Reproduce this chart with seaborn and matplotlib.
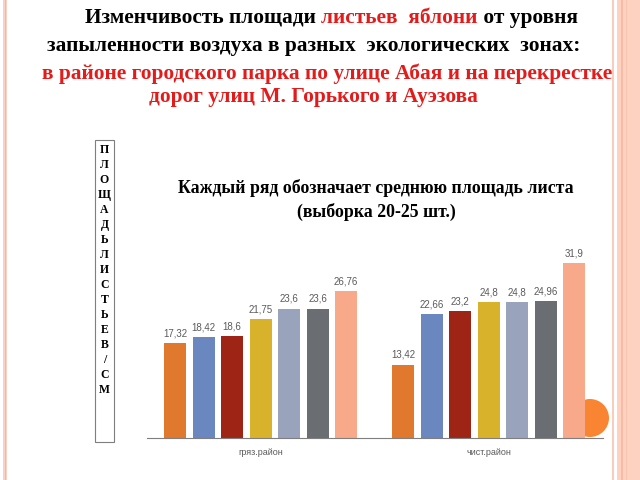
import matplotlib
matplotlib.use("Agg")
import matplotlib.pyplot as plt
import matplotlib.patches as mpatches
import seaborn as sns
import pandas as pd

# ---------------- data ----------------
categories = ["гряз.район", "чист.район"]
series = ["ряд 1", "ряд 2", "ряд 3", "ряд 4", "ряд 5", "ряд 6", "ряд 7"]
values_dirty = [17.32, 18.42, 18.6, 21.75, 23.6, 23.6, 26.76]
values_clean = [13.42, 22.66, 23.2, 24.8, 24.8, 24.96, 31.9]
colors = ["#E0782E", "#6A87BF", "#9E2515", "#D9B22C", "#9AA3BC", "#6A6D72", "#F8A98A"]

title_lines = [
    [("Изменчивость площади ", "black"), ("листьев  яблони", "#E31B1B"), (" от уровня", "black")],
    [("запыленности воздуха в разных  экологических  зонах:", "black")],
    [("в районе городского парка по улице Абая и на перекрестке", "#E31B1B")],
    [("дорог улиц М. Горького и Ауэзова", "#E31B1B")],
]
chart_title = "Каждый ряд обозначает среднюю площадь листа\n(выборка 20-25 шт.)"
ylabel_letters = ["П", "Л", "О", "Щ", "А", "Д", "Ь", "Л", "И", "С", "Т", "Ь", "Е", "В", "/", "С", "М"]

rows = []
for cat, vals in zip(categories, [values_dirty, values_clean]):
    for s, v in zip(series, vals):
        rows.append({"zone": cat, "series": s, "value": v})
df = pd.DataFrame(rows)

# ---------------- figure ----------------
sns.set_theme(style="white")
plt.rcParams["font.family"] = ["Liberation Sans", "DejaVu Sans"]

W, H = 640, 480
fig = plt.figure(figsize=(6.4, 4.8), dpi=100)
fig.patch.set_facecolor("white")

def fx(px):
    return px / W

def fy(py):
    return 1 - py / H

# decorative slide frame
fig.patches.append(mpatches.Rectangle((fx(3), 0), fx(4), 1, transform=fig.transFigure,
                                      facecolor="#F8D3C4", edgecolor="none", zorder=-5))
fig.patches.append(mpatches.Rectangle((fx(5), 0), fx(1), 1, transform=fig.transFigure,
                                      facecolor="#F2B6A2", edgecolor="none", zorder=-4))
fig.patches.append(mpatches.Rectangle((fx(612), 0), fx(2), 1, transform=fig.transFigure,
                                      facecolor="#F8CDBD", edgecolor="none", zorder=-5))
fig.patches.append(mpatches.Rectangle((fx(617), 0), fx(23), 1, transform=fig.transFigure,
                                      facecolor="#FDD2C1", edgecolor="none", zorder=-5))
fig.patches.append(mpatches.Rectangle((fx(621), 0), fx(2), 1, transform=fig.transFigure,
                                      facecolor="#F6BCA6", edgecolor="none", zorder=-4))
fig.patches.append(mpatches.Rectangle((fx(626), 0), fx(1), 1, transform=fig.transFigure,
                                      facecolor="#F8C4B0", edgecolor="none", zorder=-4))
# orange circle behind the last bar
fig.patches.append(mpatches.Ellipse((fx(590), fy(418)), fx(38), 38 / H, transform=fig.transFigure,
                                    facecolor="#F98533", edgecolor="none", zorder=-3))

# ---------------- axes ----------------
ax = fig.add_axes([fx(146.7), fy(438.3), fx(456), 36 * 5.49 / H])
ax.set_facecolor("none")
ax.set_zorder(1)
sns.barplot(data=df, x="zone", y="value", hue="series", order=categories, hue_order=series,
            palette=colors, width=0.875, gap=0.23, legend=False, ax=ax,
            saturation=1, edgecolor="none")
ax.set_ylim(0, 36)
ax.set_xlim(-0.5, 1.5)
for cont, s in zip(ax.containers, series):
    labs = [f"{v:g}".replace(".", ",") for v in df[df.series == s]["value"]]
    ax.bar_label(cont, labels=labs, padding=3.5, fontsize=7, color="#5A5A5A")
ax.set_xlabel("")
ax.set_ylabel("")
ax.set_yticks([])
ax.tick_params(axis="x", length=0, pad=7, labelsize=6.5, labelcolor="#5A5A5A")
for side in ["left", "right", "top"]:
    ax.spines[side].set_visible(False)
ax.spines["bottom"].set_color("#7F7F7F")
ax.spines["bottom"].set_linewidth(0.8)

# ---------------- texts ----------------
serif = ["Liberation Serif", "DejaVu Serif"]
fig.canvas.draw()
renderer = fig.canvas.get_renderer()

line_specs = [(85, 18, "left"), (47, 46, "left"), (42, 74, "left"), (313, 97, "center")]
for segs, (x0, yc, mode) in zip(title_lines, line_specs):
    texts = []
    for t, c in segs:
        txt = fig.text(0, fy(yc), t, color=c, fontsize=15.4, fontweight="bold",
                       family=serif, va="center", ha="left")
        texts.append(txt)
    widths = [tx.get_window_extent(renderer).width for tx in texts]
    total = sum(widths)
    start = x0 if mode == "left" else x0 - total / 2
    x = start
    for tx, w in zip(texts, widths):
        tx.set_x(fx(x))
        x += w

fig.text(fx(376), fy(200), chart_title, ha="center", va="center", fontsize=12.8,
         fontweight="bold", family=serif, color="black", linespacing=1.4)

# y-label box with stacked letters
fig.patches.append(mpatches.Rectangle((fx(95), fy(442)), fx(19), (442 - 140) / H,
                                      transform=fig.transFigure, facecolor="none",
                                      edgecolor="#7F7F7F", linewidth=0.8))
for i, letter in enumerate(ylabel_letters):
    fig.text(fx(104.5), fy(150 + 15 * i), letter, ha="center", va="center",
             fontsize=8.5, fontweight="bold", family=serif, color="black")

fig.savefig("out.png", dpi=100, facecolor="white")
